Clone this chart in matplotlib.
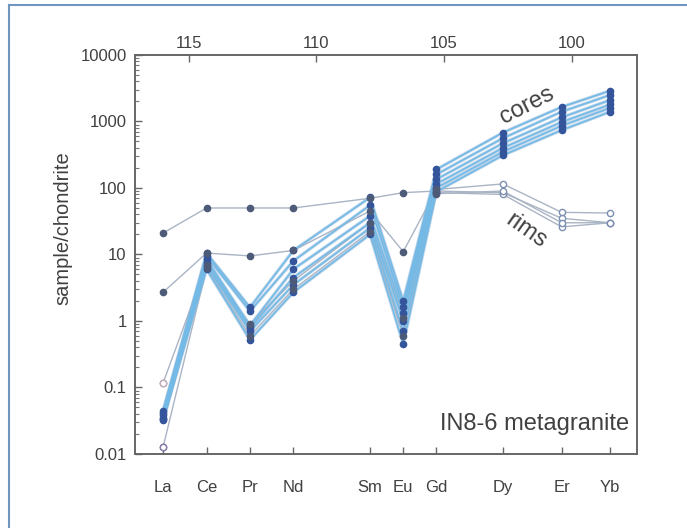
import matplotlib
matplotlib.use("Agg")
import matplotlib.pyplot as plt
from matplotlib.lines import Line2D
from matplotlib.ticker import LogLocator, NullFormatter, FixedLocator

plt.rcParams['font.family'] = ['Liberation Sans', 'DejaVu Sans']

# REE and their ionic radii (pm), used as the x position
elements = ['La', 'Ce', 'Pr', 'Nd', 'Sm', 'Eu', 'Gd', 'Dy', 'Er', 'Yb']
radius = [116.0, 114.3, 112.6, 110.9, 107.9, 106.6, 105.3, 102.7, 100.4, 98.5]
top_ticks = [115, 110, 105, 100]

# zircon cores (chondrite normalised)
core1 = [0.045, 10.5, 1.6, 11.5, 72, 2.0, 190, 680, 1650, 2900]
core2 = [0.042, 9.5, 1.4, 8.0, 55, 1.6, 160, 560, 1400, 2500]
core3 = [0.038, 8.5, 0.85, 6.0, 38, 1.3, 135, 470, 1150, 2100]
core4 = [0.035, 7.5, 0.78, 4.5, 30, 1.0, 115, 400, 980, 1800]
core5 = [0.033, 6.8, 0.7, 3.5, 25, 0.7, 100, 350, 860, 1600]
core6 = [0.032, 6.0, 0.52, 2.7, 20, 0.45, 88, 310, 740, 1400]
cores = [core1, core2, core3, core4, core5, core6]

# rims
rimA = [21, 50, 50, 50, 70, 85, 90, 85, 35, 30]
rimB = [2.7, 10.5, 9.5, 11.5, 45, 11, 95, 115, 43, 42]
rimC = [0.117, 7.0, 0.9, 4.0, 30, 1.1, 85, 80, 26, 30]
rimD = [0.0127, 6.2, 0.6, 3.0, 22, 0.6, 82, 90, 30, 30]
rims = [rimA, rimB, rimC, rimD]

fig = plt.figure(figsize=(6.87, 5.28), dpi=100)
ax = fig.add_axes([0.1965, 0.1402, 0.7307, 0.7557])

line_col = '#74bae6'
mark_col = '#34559c'
rim_line = '#a9b4c4'
rim_mark = '#4d5a78'
txt_col = '#404040'

for c in cores:
    ax.plot(radius, c, color='#3d7fbf', lw=2.4, alpha=0.3, zorder=2)
    ax.plot(radius, c, color=line_col, lw=1.2, zorder=3)
    ax.plot(radius, c, 'o', ms=4.5, color=mark_col, mec=mark_col, zorder=4)

for r in rims:
    ax.plot(radius, r, color=rim_line, lw=1.0, zorder=2.5)
    # LREE to Gd filled, HREE open
    ax.plot(radius[:7], r[:7], 'o', ms=4.5, color=rim_mark, zorder=4)
    ax.plot(radius[7:], r[7:], 'o', ms=4.5, mfc='white', mec='#7d8fb0',
            mew=1.0, zorder=4)
# open symbols for the two lowest La rim values
ax.plot(radius[0], rimC[0], 'o', ms=4.5, mfc='white', mec='#c9b0c0', zorder=5)
ax.plot(radius[0], rimD[0], 'o', ms=4.5, mfc='white', mec='#8a7fa8', zorder=5)

ax.set_yscale('log')
ax.set_ylim(0.01, 10000)
ax.set_xlim(117.1, 97.45)

ax.yaxis.set_major_locator(LogLocator(base=10, numticks=10))
ax.yaxis.set_minor_locator(LogLocator(base=10, subs=range(2, 10), numticks=50))
ax.yaxis.set_minor_formatter(NullFormatter())
ax.set_yticks([0.01, 0.1, 1, 10, 100, 1000, 10000])
ax.set_yticklabels(['0.01', '0.1', '1', '10', '100', '1000', '10000'])

ax.xaxis.set_major_locator(FixedLocator(radius))
ax.set_xticklabels(elements)

ax.tick_params(axis='both', which='major', direction='in', length=5,
               width=1, color='#666666', labelsize=12, labelcolor=txt_col)
ax.tick_params(axis='y', which='minor', direction='in', length=3,
               width=0.8, color='#777777')
ax.tick_params(axis='y', pad=6)
ax.tick_params(axis='x', pad=19)

sec = ax.secondary_xaxis('top')
sec.set_xticks(top_ticks)
sec.set_xticklabels([str(t) for t in top_ticks])
sec.tick_params(direction='in', length=5, width=1, color='#666666',
                labelsize=12, labelcolor=txt_col, pad=3)
sec.spines['top'].set_visible(False)

for s in ax.spines.values():
    s.set_color('#666666')
    s.set_linewidth(1.4)

ax.set_ylabel('sample/chondrite', fontsize=14.5, color=txt_col)
ax.yaxis.set_label_coords(-0.125, 0.566)

ax.text(0.985, 0.075, 'IN8-6 metagranite', transform=ax.transAxes,
        ha='right', va='center', fontsize=17, color=txt_col)
ax.text(101.75, 1750, 'cores', rotation=27, ha='center', va='center',
        fontsize=17, color=txt_col)
ax.text(101.8, 23, 'rims', rotation=-35, ha='center', va='center',
        fontsize=17, color=txt_col)

# thin frame round the picture
fig.add_artist(Line2D([9 / 687, 9 / 687], [0, 1 - 5 / 528],
                      transform=fig.transFigure, color='#7096c0', lw=1.5))
fig.add_artist(Line2D([9 / 687, 1], [1 - 5 / 528, 1 - 5 / 528],
                      transform=fig.transFigure, color='#7096c0', lw=1.5))

fig.savefig('out.png', dpi=100)
